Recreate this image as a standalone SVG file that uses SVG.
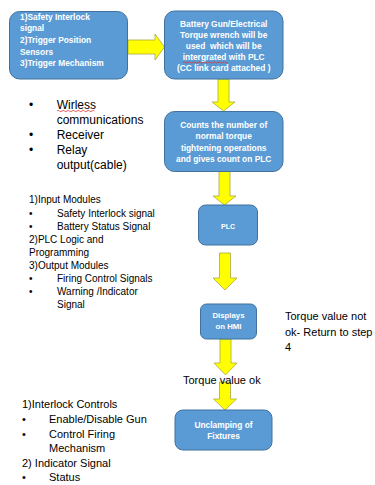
<svg xmlns="http://www.w3.org/2000/svg" width="375" height="485" viewBox="0 0 375 485">
<style>
.box{fill:#5B9BD5;stroke:#41719C;stroke-width:1}
.arr{fill:#FFFF00;stroke:#A8A83C;stroke-width:0.8;stroke-linejoin:miter}
.bt{font-family:"Liberation Sans",Arial,sans-serif;font-weight:bold;font-size:8.4px;fill:#FFFFFF}
.c{text-anchor:middle}
.t12{font-family:"Liberation Sans",Arial,sans-serif;font-size:12px;fill:#000}
.t10{font-family:"Liberation Sans",Arial,sans-serif;font-size:10px;fill:#000}
.t11{font-family:"Liberation Sans",Arial,sans-serif;font-size:11px;fill:#000}
.sq{fill:none;stroke:#E03030;stroke-width:0.8}
</style>
<rect width="375" height="485" fill="#FFFFFF"/>
<g id="connectors">
<polygon class="arr" points="128,40 155,40 155,34 164.5,47 155,60 155,54 128,54"/>
<polygon class="arr" points="218,79 229,79 229,102 235,102 223.5,111 212,102 218,102"/>
<polygon class="arr" points="219,171.5 230,171.5 230,196 236,196 224.5,205 213,196 219,196"/>
<polygon class="arr" points="219.5,253 230.5,253 230.5,278 237,278 225,290 213,278 219.5,278"/>
<polygon class="arr" points="220,339 231,339 231,363 237,363 225.5,375 214,363 220,363"/>
<polygon class="arr" points="219.5,382 230.5,382 230.5,399 236.5,399 225,410 213.5,399 219.5,399"/>
</g>
<g id="node-inputs">
<rect class="box" x="9.5" y="11.5" width="118" height="67.5" rx="10"/>
<text class="bt" x="20" y="20">1)Safety Interlock</text>
<text class="bt" x="20" y="31">signal</text>
<text class="bt" x="20" y="43">2)Trigger Position</text>
<text class="bt" x="20" y="54.5">Sensors</text>
<text class="bt" x="20" y="66">3)Trigger Mechanism</text>
</g>
<g id="node-gun">
<rect class="box" x="164.5" y="11" width="118.5" height="68" rx="10"/>
<text class="bt c" x="223.7" y="26.5">Battery Gun/Electrical</text>
<text class="bt c" x="223.7" y="37.7">Torque wrench will be</text>
<text class="bt c" x="223.7" y="48.9" xml:space="preserve">used  which will be</text>
<text class="bt c" x="223.7" y="60.1">intergrated with PLC</text>
<text class="bt c" x="223.7" y="71.3">(CC link card attached )</text>
<path class="sq" d="M183,62.5 q1.25,-1.2 2.5,0 t2.5,0 t2.5,0 t2.5,0 t2.5,0 t2.5,0 t2.5,0 t2.5,0 t2.5,0 t2.5,0 t2.5,0 t2.5,0 t2.5,0 t2.5,0 t2.5,0 t2.5,0 t2.5,0 t2.5,0"/>
</g>
<g id="node-count">
<rect class="box" x="164.5" y="111.5" width="118.5" height="60" rx="10"/>
<text class="bt c" x="223.7" y="127.5">Counts the number of</text>
<text class="bt c" x="223.7" y="139">normal torque</text>
<text class="bt c" x="223.7" y="150.5">tightening operations</text>
<text class="bt c" x="223.7" y="162.3">and gives count on PLC</text>
</g>
<g id="node-plc">
<rect class="box" x="198.5" y="205" width="59" height="40" rx="7"/>
<text class="bt c" x="228" y="228.5" style="font-size:7px">PLC</text>
</g>
<g id="node-hmi">
<rect class="box" x="200.5" y="304" width="56" height="35" rx="6"/>
<text class="bt c" x="228.5" y="317.8" style="font-size:7.8px">Displays</text>
<text class="bt c" x="228.5" y="328.8" style="font-size:7.8px">on HMI</text>
</g>
<g id="node-unclamp">
<rect class="box" x="175" y="410" width="97" height="40" rx="8"/>
<text class="bt c" x="223.5" y="428">Unclamping of</text>
<text class="bt c" x="223.5" y="438.5">Fixtures</text>
</g>
<g id="label-comms">
<text class="t12" x="29" y="108.5">•</text>
<text class="t12" x="56.7" y="108.5">Wirless</text>
<path class="sq" d="M57,111 q1.25,-1.2 2.5,0 t2.5,0 t2.5,0 t2.5,0 t2.5,0 t2.5,0 t2.5,0 t2.5,0 t2.5,0 t2.5,0 t2.5,0 t2.5,0 t2.5,0 t2.5,0 t2.5,0"/>
<text class="t12" x="56.7" y="123.5">communications</text>
<text class="t12" x="29" y="138.5">•</text>
<text class="t12" x="56.7" y="138.5">Receiver</text>
<text class="t12" x="29" y="154">•</text>
<text class="t12" x="56.7" y="154">Relay</text>
<text class="t12" x="56.7" y="169">output(cable)</text>
</g>
<g id="label-modules">
<text class="t10" x="29" y="203">1)Input Modules</text>
<text class="t10" x="29" y="216.5">•</text>
<text class="t10" x="57" y="216.5">Safety Interlock signal</text>
<text class="t10" x="29" y="229.8">•</text>
<text class="t10" x="57" y="229.8">Battery Status Signal</text>
<text class="t10" x="29" y="242.8">2)PLC Logic and</text>
<text class="t10" x="29" y="255.8">Programming</text>
<text class="t10" x="29" y="268.8">3)Output Modules</text>
<text class="t10" x="29" y="281.8">•</text>
<text class="t10" x="57" y="281.8">Firing Control Signals</text>
<text class="t10" x="29" y="294.8">•</text>
<text class="t10" x="57" y="294.8">Warning /Indicator</text>
<text class="t10" x="57" y="307.8">Signal</text>
</g>
<g id="label-controls">
<text class="t11" x="22" y="408">1)Interlock Controls</text>
<text class="t11" x="22" y="423">•</text>
<text class="t11" x="49" y="423">Enable/Disable Gun</text>
<text class="t11" x="22" y="437.5">•</text>
<text class="t11" x="49" y="437.5">Control Firing</text>
<text class="t11" x="49" y="452.3">Mechanism</text>
<text class="t11" x="22" y="466.5">2) Indicator Signal</text>
<text class="t11" x="22" y="480.8">•</text>
<text class="t11" x="49" y="480.8">Status</text>
</g>
<g id="label-notok">
<text class="t11" x="285" y="320">Torque value not</text>
<text class="t11" x="285" y="335.5">ok- Return to step</text>
<text class="t11" x="285" y="351">4</text>
</g>
<g id="label-ok">
<text class="t11" x="183" y="384">Torque value ok</text>
</g>
</svg>
